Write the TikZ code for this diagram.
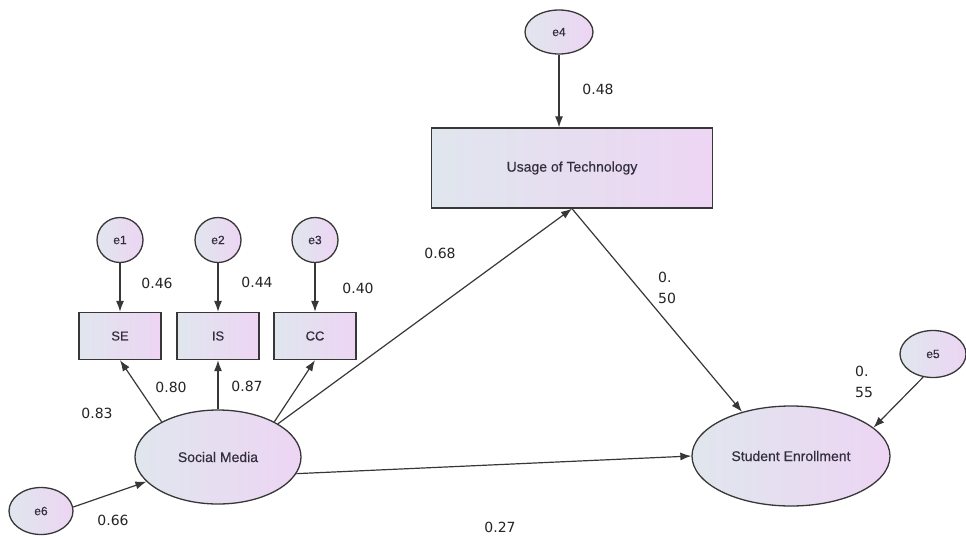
\documentclass[tikz,border=0pt]{standalone}
\usepackage{fontspec}
\setmainfont{Liberation Sans}
\newfontfamily\nodefont[FakeBold=0.4]{Liberation Sans}
\newfontfamily\numfont{DejaVu Sans}
\usetikzlibrary{shapes.geometric, arrows.meta, positioning, calc}
\definecolor{shadeleft}{RGB}{224, 230, 238}
\definecolor{shaderight}{RGB}{237, 213, 243}
\definecolor{edgegray}{RGB}{55, 55, 55}
\definecolor{labelgray}{RGB}{50, 46, 62}
\definecolor{numgray}{RGB}{35, 35, 35}

\begin{document}
\begin{tikzpicture}[x=1pt, y=-1pt,
  errnode/.style={draw=edgegray, line width=1.3pt, ellipse, left color=shadeleft, right color=shaderight, inner sep=0pt, text=labelgray, font=\nodefont\fontsize{12}{14}\selectfont},
  obsbox/.style={draw=edgegray, line width=1.3pt, rectangle, left color=shadeleft, right color=shaderight, inner sep=0pt, text=labelgray, font=\nodefont\fontsize{13}{15}\selectfont},
  latnode/.style={draw=edgegray, line width=1.3pt, ellipse, left color=shadeleft, right color=shaderight, inner sep=0pt, text=labelgray, font=\nodefont\fontsize{14}{16}\selectfont},
  weight/.style={text=numgray, inner sep=0pt, align=left, font=\numfont\fontsize{14}{21}\selectfont},
  arr/.style={draw=edgegray, line width=1.2pt, -{Latex[length=11pt, width=8pt]}}
]
  \useasboundingbox (0,0) rectangle (966,536);

  % error terms
  \node[errnode, minimum width=46pt, minimum height=45pt] (e1) at (120,240) {e1};
  \node[errnode, minimum width=46pt, minimum height=45pt] (e2) at (218,240) {e2};
  \node[errnode, minimum width=46pt, minimum height=45pt] (e3) at (315,240) {e3};
  \node[errnode, minimum width=68pt, minimum height=44pt] (e4) at (559,32) {e4};
  \node[errnode, minimum width=66pt, minimum height=47pt] (e5) at (933,354) {e5};
  \node[errnode, minimum width=64pt, minimum height=47pt] (e6) at (41,511) {e6};

  % indicators
  \node[obsbox, minimum width=82pt, minimum height=47pt] (se) at (120,336) {SE};
  \node[obsbox, minimum width=82pt, minimum height=47pt] (is) at (218,336) {IS};
  \node[obsbox, minimum width=82pt, minimum height=47pt] (cc) at (315,336) {CC};

  % constructs
  \node[latnode, minimum width=166pt, minimum height=94pt] (social) at (218,457) {Social Media};
  \node[obsbox, minimum width=281pt, minimum height=80pt, font=\nodefont\fontsize{14}{16}\selectfont] (usage) at (572,168) {Usage of Technology};
  \node[latnode, minimum width=198pt, minimum height=100pt] (enroll) at (791,456) {Student Enrollment};

  % paths
  \draw[arr] (e1) -- (se);
  \draw[arr] (e2) -- (is);
  \draw[arr] (e3) -- (cc);
  \draw[arr] (e4.south) -- (e4.south |- usage.north);
  \draw[arr] (social.148) -- (se.south);
  \draw[arr] (social.north) -- (is.south);
  \draw[arr] (social.32) -- (cc.south);
  \draw[arr] (social.29) -- (usage.south);
  \draw[arr] (social.-12) -- (enroll.west);
  \draw[arr] (usage.south) -- (enroll.138);
  \draw[arr] (e5.247) -- (enroll.19);
  \draw[arr] (e6.7) -- (social.199);

  % estimates
  \node[weight] (w46) at (157,283) {0.46};
  \node[weight] (w44) at (257,282) {0.44};
  \node[weight] (w40) at (358,288) {0.40};
  \node[weight] (w80) at (171,387) {0.80};
  \node[weight] (w87) at (247,386) {0.87};
  \node[weight] (w83) at (97,413) {0.83};
  \node[weight] (w66) at (113,520) {0.66};
  \node[weight] (w68) at (440,253) {0.68};
  \node[weight] (w48) at (598,89) {0.48};
  \node[weight] (w27) at (500,527) {0.27};
  \node[weight, anchor=west] (w50) at (658,288) {0.\\50};
  \node[weight, anchor=west] (w55) at (855,382) {0.\\55};
\end{tikzpicture}
\end{document}
